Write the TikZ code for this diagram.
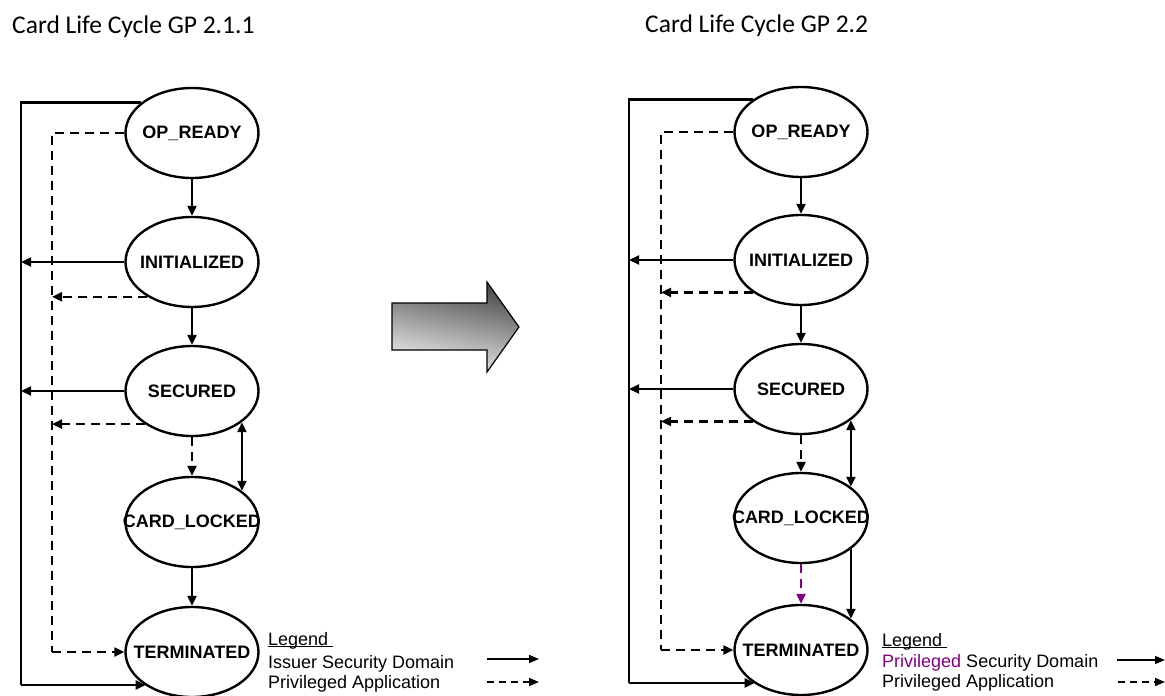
\documentclass[tikz,border=0pt]{standalone}
\usepackage{fontspec}
\setmainfont{Liberation Sans}
\newfontfamily\calib{Carlito}
\usetikzlibrary{arrows.meta,shapes.geometric}
\definecolor{priv}{RGB}{128,0,128}
\newcommand{\lbl}[1]{\makebox[0pt]{#1}}
\newcommand{\ulegend}{{\setbox0\hbox{Legend\ }\rlap{\rule[-2pt]{\wd0}{1pt}}\box0}}
\tikzset{
  state/.style={ellipse, draw, line width=2.4pt, minimum width=133pt, minimum height=90pt, inner sep=0pt,
    font=\fontsize{18}{20}\selectfont\bfseries},
  solidarr/.style={line width=2.2pt, -{Triangle[length=10pt,width=9pt]}},
  dasharr/.style={line width=2.2pt, dash pattern=on 9pt off 6pt, -{Triangle[length=10pt,width=9pt]}},
  dashline/.style={line width=2.2pt, dash pattern=on 9pt off 6pt},
  dblarr/.style={line width=2.2pt, {Triangle[length=10pt,width=9pt]}-{Triangle[length=10pt,width=9pt]}},
  legtext/.style={anchor=base west, inner sep=0pt, font=\fontsize{18}{20}\selectfont},
  legarr/.style={line width=1.5pt, -{Triangle[length=10pt,width=8pt]}},
  legdash/.style={line width=1.5pt, dash pattern=on 7pt off 5pt, -{Triangle[length=10pt,width=8pt]}},
  title/.style={anchor=base west, inner sep=0pt, font=\calib\fontsize{25.5}{28}\selectfont}
}
\begin{document}
\begin{tikzpicture}[x=1pt,y=-1pt]
\useasboundingbox[fill=white] (0,0) rectangle (1165,696);

% titles
\node[title] (t1) at (12,34) {Card Life Cycle GP 2.1.1};
\node[title] (t2) at (645,32) {Card Life Cycle GP 2.2};

% ---------- left diagram ----------
\node[state] (op1)   at (192,133) {\lbl{OP\_READY}};
\node[state] (init1) at (192,262) {\lbl{INITIALIZED}};
\node[state] (sec1)  at (192,391) {\lbl{SECURED}};
\node[state] (card1) at (192,522) {\lbl{CARD\_LOCKED}};
\node[state] (term1) at (192,652) {\lbl{TERMINATED}};
\coordinate (fl1) at (21,685);
\coordinate (dl1) at (52,652);

\draw[solidarr] (op1.south) -- (init1.north);
\draw[solidarr] (init1.south) -- (sec1.north);
\draw[dasharr] (sec1.south) -- (card1.north);
\draw[solidarr] (card1.south) -- (term1.north);
\draw[dblarr] (sec1.328) -- (sec1.328 |- card1.32);

\draw[line width=2.2pt] (op1.149) -| (fl1);
\draw[solidarr] (fl1) -- (fl1 -| term1.216);
\draw[solidarr] (init1.west) -- (init1.west -| fl1);
\draw[solidarr] (sec1.west) -- (sec1.west -| fl1);

\draw[dashline] (op1.west) -| (dl1);
\draw[dasharr] (dl1) -- (term1.west);
\draw[dasharr] (init1.218) -- (init1.218 -| dl1);
\draw[dasharr] (sec1.215) -- (sec1.215 -| dl1);

% legend left
\node[legtext] (lg1) at (268,645) {\ulegend};
\node[legtext] (lga1) at (268,668) {Issuer Security Domain};
\node[legtext] (lgb1) at (268,688) {Privileged Application};
\coordinate (ls1a) at (487,659);
\coordinate (ls1b) at (539,659);
\coordinate (ld1a) at (487,682);
\coordinate (ld1b) at (539,682);
\draw[legarr] (ls1a) -- (ls1b);
\draw[legdash] (ld1a) -- (ld1b);

% ---------- big arrow ----------
\shade[draw=black, line width=1.2pt, top color=black!72, bottom color=white!95!black, shading angle=-12]
  (392,303) -- (487,303) -- (487,282) -- (519,327) -- (487,372) -- (487,350) -- (392,350) -- cycle;

% ---------- right diagram ----------
\node[state] (op2)   at (801,132) {\lbl{OP\_READY}};
\node[state] (init2) at (801,260) {\lbl{INITIALIZED}};
\node[state] (sec2)  at (801,389) {\lbl{SECURED}};
\node[state] (card2) at (801,518) {\lbl{CARD\_LOCKED}};
\node[state] (term2) at (801,650) {\lbl{TERMINATED}};
\coordinate (fl2) at (629,683);
\coordinate (dl2) at (661,650);

\draw[solidarr] (op2.south) -- (init2.north);
\draw[solidarr] (init2.south) -- (sec2.north);
\draw[dasharr] (sec2.south) -- (card2.north);
\draw[dasharr, priv] (card2.south) -- (term2.north);
\draw[dblarr] (sec2.328) -- (sec2.328 |- card2.32);
\draw[solidarr] (card2.328) -- (card2.328 |- term2.32);

\draw[line width=2.2pt] (op2.146) -| (fl2);
\draw[solidarr] (fl2) -- (fl2 -| term2.216);
\draw[solidarr] (init2.west) -- (init2.west -| fl2);
\draw[solidarr] (sec2.west) -- (sec2.west -| fl2);

\draw[dashline] (op2.west) -| (dl2);
\draw[dasharr] (dl2) -- (term2.west);
\draw[dasharr] (init2.214) -- (init2.214 -| dl2);
\draw[dasharr] (sec2.214) -- (sec2.214 -| dl2);

% legend right
\node[legtext] (lg2) at (882,646) {\ulegend};
\node[legtext] (lga2) at (882,667) {\textcolor{priv}{Privileged} Security Domain};
\node[legtext] (lgb2) at (882,687) {Privileged Application};
\coordinate (ls2a) at (1117,660);
\coordinate (ls2b) at (1165,660);
\coordinate (ld2a) at (1118,682);
\coordinate (ld2b) at (1165,682);
\draw[legarr] (ls2a) -- (ls2b);
\draw[legdash] (ld2a) -- (ld2b);
\end{tikzpicture}
\end{document}
